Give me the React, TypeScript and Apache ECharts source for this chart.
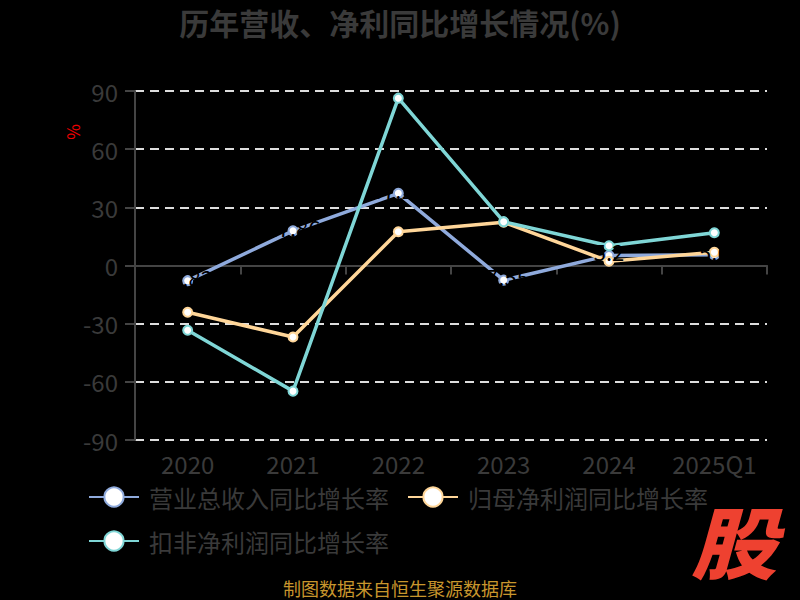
import React, { useEffect, useRef } from "react";
import * as echarts from "echarts";

const categories = ["2020", "2021", "2022", "2023", "2024", "2025Q1"];
const revenueGrowth = [-7.82, 17.86, 37.21, -7.55, 5.2, 5.6];
const netProfitGrowth = [-24.1, -36.9, 17.4, 22.3, 2.2, 6.8];
const deductedProfitGrowth = [-33.4, -64.8, 86.3, 22.6, 10.2, 16.9];
const seriesNames = ["营业总收入同比增长率", "归母净利润同比增长率", "扣非净利润同比增长率"];
const colors = ["#8FAADC", "#FFD699", "#7FD6D6"];

export default function App() {
  const ref = useRef<HTMLDivElement>(null);
  useEffect(() => {
    document.body.style.margin = "0";
    if (!ref.current) return;
    const chart = echarts.init(ref.current, null, { renderer: "svg" });
    const font = "Noto Sans CJK SC";
    const mkSeries = (name: string, data: number[], color: string, withLabel: boolean) => ({
      name,
      type: "line",
      data,
      xAxisIndex: 0,
      symbol: "circle",
      symbolSize: 9,
      lineStyle: { color, width: 3.5 },
      itemStyle: { color: "#fff", borderColor: color, borderWidth: 2 },
      label: withLabel
        ? { show: true, position: "inside", offset: [0, -4], color: "#000", fontSize: 22, fontFamily: font }
        : { show: false },
    });
    chart.setOption({
      animation: false,
      backgroundColor: "#000",
      color: colors,
      title: {
        text: "历年营收、净利同比增长情况(%)",
        left: "center",
        top: 2,
        textStyle: { color: "#3a3a3a", fontSize: 30, fontWeight: "bold", fontFamily: font },
      },
      grid: { left: 135, right: 33, top: 91, bottom: 160 },
      legend: {
        left: 83,
        top: 479,
        width: 660,
        itemWidth: 50,
        itemHeight: 24,
        itemGap: 18,
        textStyle: { color: "#3a3a3a", fontSize: 24, lineHeight: 26, fontFamily: font, padding: [0, 0, 0, 5] },
        data: seriesNames,
      },
      xAxis: [
        {
          type: "category",
          data: categories,
          axisLine: { onZero: true, lineStyle: { color: "#444", width: 2 } },
          axisTick: { show: true, length: 9, lineStyle: { color: "#444", width: 2 } },
          axisLabel: { show: false },
        },
        {
          type: "category",
          data: categories,
          position: "bottom",
          axisLine: { show: false, onZero: false },
          axisTick: { show: false },
          axisLabel: { color: "#3a3a3a", fontSize: 24, lineHeight: 26, margin: 10, interval: 0, fontFamily: font },
        },
      ],
      yAxis: {
        type: "value",
        min: -90,
        max: 90,
        interval: 30,
        axisLine: { show: true, lineStyle: { color: "#444", width: 2 } },
        axisTick: { show: true, length: 10, lineStyle: { color: "#444", width: 2 } },
        axisLabel: { color: "#3a3a3a", fontSize: 24, margin: 17, fontFamily: font },
        splitLine: { show: true, lineStyle: { color: "#ddd", width: 2, type: [9, 6] } },
      },
      series: [
        mkSeries(seriesNames[0], revenueGrowth, colors[0], true),
        mkSeries(seriesNames[1], netProfitGrowth, colors[1], false),
        mkSeries(seriesNames[2], deductedProfitGrowth, colors[2], false),
      ],
      graphic: [
        {
          type: "text",
          x: 72,
          y: 132,
          rotation: Math.PI / 2,
          style: { text: "%", fill: "#e00", fontSize: 17, fontFamily: font, textAlign: "center", textVerticalAlign: "middle" },
        },
        {
          type: "text",
          x: 400,
          y: 588,
          style: {
            text: "制图数据来自恒生聚源数据库",
            fill: "#C8962D",
            fontSize: 18,
            fontFamily: font,
            textAlign: "center",
            textVerticalAlign: "middle",
          },
        },
        {
          type: "text",
          x: 734,
          y: 539,
          scaleX: 1.1,
          style: {
            text: "股",
            fill: "#EE4130",
            fontSize: 78,
            fontWeight: 900,
            fontStyle: "italic",
            fontFamily: font,
            textAlign: "center",
            textVerticalAlign: "middle",
          },
        },
      ],
    });
    return () => chart.dispose();
  }, []);
  return <div ref={ref} style={{ width: 800, height: 600 }} />;
}
